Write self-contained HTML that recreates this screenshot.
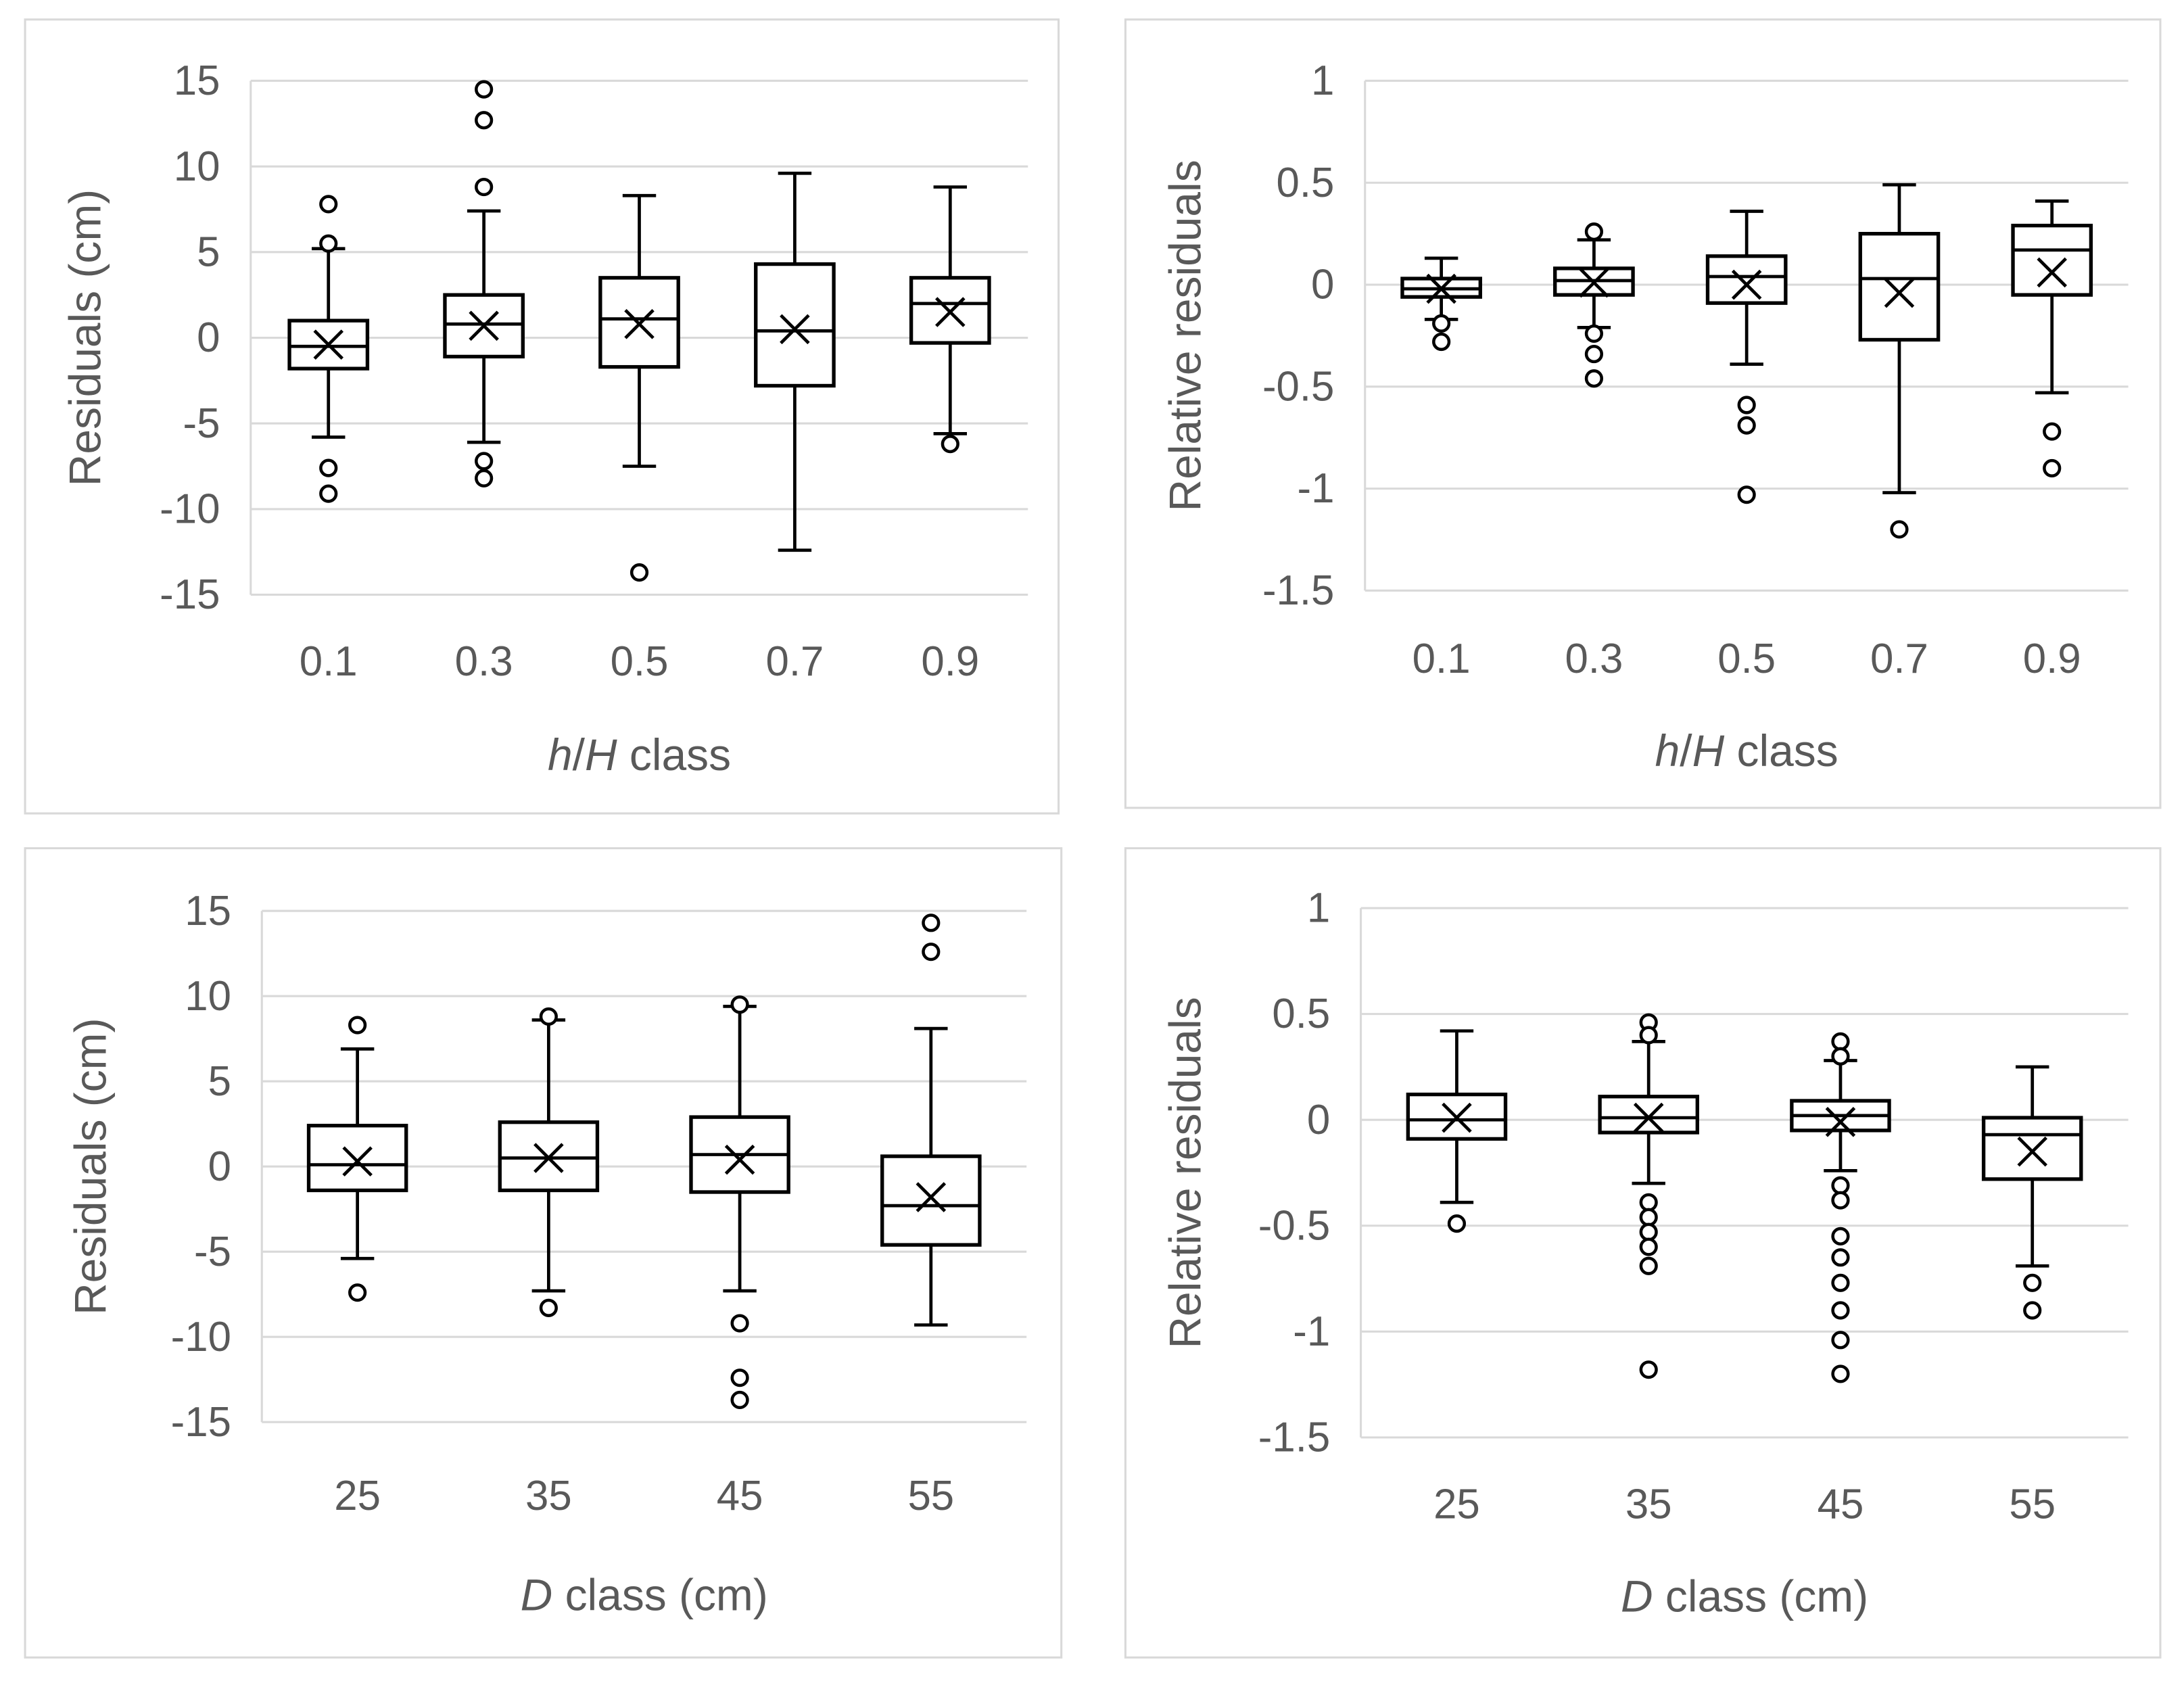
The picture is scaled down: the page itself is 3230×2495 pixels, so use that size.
<!DOCTYPE html>
<html><head><meta charset="utf-8"><style>
html,body{margin:0;padding:0;background:#fff;}
svg{display:block;}
text{font-family:"Liberation Sans",sans-serif;fill:#595959;}
</style></head><body>
<svg id="fig" width="3230" height="2495" viewBox="0 0 1568 1211.2" xmlns="http://www.w3.org/2000/svg"></svg>
<script>
// Panel A: residuals by h/H class
const catsA = ["0.1","0.3","0.5","0.7","0.9"];
const hiA  = [5.2, 7.4, 8.3, 9.6, 8.8];
const q3A  = [1.0, 2.5, 3.5, 4.3, 3.5];
const medA = [-0.5, 0.8, 1.1, 0.4, 2.0];
const q1A  = [-1.8, -1.1, -1.7, -2.8, -0.3];
const loA  = [-5.8, -6.1, -7.5, -12.4, -5.6];
const meanA= [-0.4, 0.7, 0.8, 0.5, 1.5];
const outA = [[7.8,5.5,-7.6,-9.1],[14.5,12.7,8.8,-7.2,-8.2],[-13.7],[],[-6.2]];
const ticksA = [15,10,5,0,-5,-10,-15];
// Panel B: relative residuals by h/H class
const catsB = ["0.1","0.3","0.5","0.7","0.9"];
const hiB  = [0.13, 0.22, 0.36, 0.49, 0.41];
const q3B  = [0.03, 0.08, 0.14, 0.25, 0.29];
const medB = [-0.02, 0.02, 0.04, 0.03, 0.17];
const q1B  = [-0.06, -0.05, -0.09, -0.27, -0.05];
const loB  = [-0.17, -0.21, -0.39, -1.02, -0.53];
const meanB= [-0.02, 0.01, 0.0, -0.04, 0.06];
const outB = [[-0.19,-0.28],[0.26,-0.24,-0.34,-0.46],[-0.59,-0.69,-1.03],[-1.2],[-0.72,-0.9]];
const ticksB = [1,0.5,0,-0.5,-1,-1.5];
// Panel C: residuals by D class
const catsC = ["25","35","45","55"];
const hiC  = [6.9, 8.6, 9.4, 8.1];
const q3C  = [2.4, 2.6, 2.9, 0.6];
const medC = [0.1, 0.5, 0.7, -2.3];
const q1C  = [-1.4, -1.4, -1.5, -4.6];
const loC  = [-5.4, -7.3, -7.3, -9.3];
const meanC= [0.3, 0.5, 0.4, -1.8];
const outC = [[8.3,-7.4],[8.8,-8.3],[9.5,-9.2,-12.4,-13.7],[14.3,12.6]];
const ticksC = [15,10,5,0,-5,-10,-15];
// Panel D: relative residuals by D class
const catsD = ["25","35","45","55"];
const hiD  = [0.42, 0.37, 0.28, 0.25];
const q3D  = [0.12, 0.11, 0.09, 0.01];
const medD = [0.0, 0.01, 0.02, -0.07];
const q1D  = [-0.09, -0.06, -0.05, -0.28];
const loD  = [-0.39, -0.30, -0.24, -0.69];
const meanD= [0.01, 0.01, -0.01, -0.15];
const outD = [[-0.49],[0.46,0.40,-0.39,-0.46,-0.53,-0.60,-0.69,-1.18],[0.37,0.30,-0.31,-0.38,-0.55,-0.65,-0.77,-0.90,-1.04,-1.20],[-0.77,-0.90]];
const ticksD = [1,0.5,0,-0.5,-1,-1.5];

const NS="http://www.w3.org/2000/svg";
const svg=document.getElementById('fig');
function mk(tag,attrs,parent){const e=document.createElementNS(NS,tag);for(const k in attrs)e.setAttribute(k,attrs[k]);(parent||svg).appendChild(e);return e;}

function panel(p){
  const g=mk('g',{});
  
  
  const fr=mk('rect',{x:p.frame[0],y:p.frame[1],width:p.frame[2]-p.frame[0],height:p.frame[3]-p.frame[1],fill:'#fff',stroke:'#d9d9d9','stroke-width':1.5},g);
  
  
  const ymax=p.ticks[0], ymin=p.ticks[p.ticks.length-1];
  const yS=v=>p.yTop+(ymax-v)/(ymax-ymin)*(p.yBot-p.yTop);
  const n=p.cats.length, bw=(p.x1-p.x0)/n;
  const xS=i=>p.x0+(i+0.5)*bw;
  p.ticks.forEach(t=>{
    const l=mk('line',{x1:p.x0,x2:p.x1,y1:yS(t),y2:yS(t),stroke:'#d9d9d9','stroke-width':1.5},g);
    
    
    const tx=mk('text',{x:p.x0-22,y:yS(t)+10,'text-anchor':'end','font-size':30},g);
    tx.textContent=String(t);
    
    
  });
  const ax=mk('line',{x1:p.x0,x2:p.x0,y1:p.yTop,y2:p.yBot,stroke:'#d9d9d9','stroke-width':1.5},g);
  
  
  const boxW=p.boxW, cap=12;
  p.cats.forEach((c,i)=>{
    const cx=xS(i);
    const bg=mk('g',{stroke:'#000','stroke-width':2.3,fill:'none'},g);
    
    
    mk('line',{x1:cx,x2:cx,y1:yS(p.hi[i]),y2:yS(p.q3[i])},bg);
    mk('line',{x1:cx,x2:cx,y1:yS(p.q1[i]),y2:yS(p.lo[i])},bg);
    mk('line',{x1:cx-cap,x2:cx+cap,y1:yS(p.hi[i]),y2:yS(p.hi[i])},bg);
    mk('line',{x1:cx-cap,x2:cx+cap,y1:yS(p.lo[i]),y2:yS(p.lo[i])},bg);
    mk('rect',{x:cx-boxW/2,y:yS(p.q3[i]),width:boxW,height:yS(p.q1[i])-yS(p.q3[i]),fill:'#fff','stroke-width':2.6},bg);
    mk('line',{x1:cx-boxW/2,x2:cx+boxW/2,y1:yS(p.med[i]),y2:yS(p.med[i])},bg);
    const my=yS(p.mean[i]), s=10;
    const m=mk('path',{d:`M${cx-s} ${my-s}L${cx+s} ${my+s}M${cx+s} ${my-s}L${cx-s} ${my+s}`},bg);
    
    
    p.out[i].forEach(o=>{
      const ci=mk('circle',{cx:cx,cy:yS(o),r:5.5,'stroke-width':2.2,fill:'#fff'},bg);
      
      
    });
    const xl=mk('text',{x:cx,y:p.xLabY,'text-anchor':'middle','font-size':30},g);
    xl.textContent=c;
    
    
  });
  const yt=mk('text',{x:0,y:0,'text-anchor':'middle','font-size':32,transform:`translate(${p.yTitleX},${(p.yTop+p.yBot)/2}) rotate(-90)`},g);
  yt.textContent=p.yTitle;
  
  
  const xt=mk('text',{x:(p.x0+p.x1)/2,y:p.xTitleY,'text-anchor':'middle','font-size':32},g);
  xt.innerHTML=p.xTitle;
  
  
}
const hH='<tspan font-style="italic">h</tspan>/<tspan font-style="italic">H</tspan> class';
const Dc='<tspan font-style="italic">D</tspan> class (cm)';
panel({name:'panel-residuals-hH',frame:[18,14,760,584],x0:180,x1:738,yTop:58,yBot:427,ticks:ticksA,cats:catsA,hi:hiA,q3:q3A,med:medA,q1:q1A,lo:loA,mean:meanA,out:outA,boxW:56,xLabY:485,xTitleY:553,yTitleX:72,yTitle:'Residuals (cm)',xTitle:hH});
panel({name:'panel-relative-hH',frame:[808,14,1551,580],x0:980,x1:1528,yTop:58,yBot:424,ticks:ticksB,cats:catsB,hi:hiB,q3:q3B,med:medB,q1:q1B,lo:loB,mean:meanB,out:outB,boxW:56,xLabY:483,xTitleY:550,yTitleX:862,yTitle:'Relative  residuals',xTitle:hH});
panel({name:'panel-residuals-D',frame:[18,609,762,1190],x0:188,x1:737,yTop:654,yBot:1021,ticks:ticksC,cats:catsC,hi:hiC,q3:q3C,med:medC,q1:q1C,lo:loC,mean:meanC,out:outC,boxW:70,xLabY:1084,xTitleY:1156,yTitleX:76,yTitle:'Residuals (cm)',xTitle:Dc});
panel({name:'panel-relative-D',frame:[808,609,1551,1190],x0:977,x1:1528,yTop:652,yBot:1032,ticks:ticksD,cats:catsD,hi:hiD,q3:q3D,med:medD,q1:q1D,lo:loD,mean:meanD,out:outD,boxW:70,xLabY:1090,xTitleY:1157,yTitleX:862,yTitle:'Relative  residuals',xTitle:Dc});
</script>
</body></html>
